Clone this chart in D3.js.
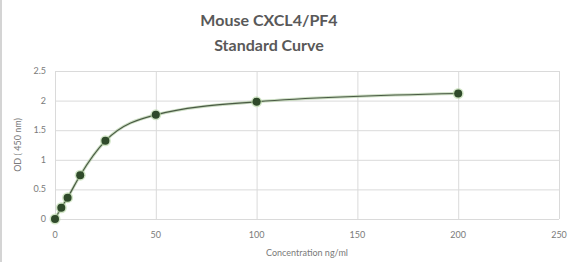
<!DOCTYPE html>
<html>
<head>
<meta charset="utf-8">
<script src="https://cdn.jsdelivr.net/npm/d3@7"></script>
<style>
  body { margin: 0; background: #fff; }
  svg { display: block; font-family: Lato, "Open Sans", sans-serif; }
</style>
</head>
<body>
<svg id="chart" width="569" height="262"></svg>
<script>
// Standard curve data
const concentration = [0, 3.125, 6.25, 12.5, 25, 50, 100, 200];
const od450 = [0, 0.19, 0.36, 0.74, 1.32, 1.76, 1.98, 2.12];
const xTicks = [0, 50, 100, 150, 200, 250];
const yTicks = [0, 0.5, 1, 1.5, 2, 2.5];
const titleLines = ["Mouse CXCL4/PF4", "Standard Curve"];

const svg = d3.select('#chart');
const width = +svg.attr("width");
const height = +svg.attr("height");

// left frame edge
svg.append("rect")
  .attr("x", 0).attr("y", 0)
  .attr("width", 2).attr("height", height)
  .attr("fill", "#d4d4d4");

const x = d3.scaleLinear().domain([0, 250]).range([55, 559]);
const y = d3.scaleLinear().domain([0, 2.5]).range([219, 71]);

//_________________ Grid
svg.append("g")
  .selectAll("line")
  .data(yTicks)
  .enter().append("line")
  .attr("x1", x(0)).attr("x2", x(250))
  .attr("y1", d => y(d) + 0.5).attr("y2", d => y(d) + 0.5)
  .attr("stroke", "#dadada")
  .attr("stroke-width", 1);

svg.append("g")
  .selectAll("line")
  .data(xTicks)
  .enter().append("line")
  .attr("x1", d => x(d) + 0.5).attr("x2", d => x(d) + 0.5)
  .attr("y1", y(2.5)).attr("y2", y(0))
  .attr("stroke", "#dadada")
  .attr("stroke-width", 1);

//_________________ Tick labels
svg.append("g")
  .selectAll("text")
  .data(yTicks)
  .enter().append("text")
  .attr("x", 46)
  .attr("y", d => y(d) + 3)
  .attr("text-anchor", "end")
  .attr("font-size", 9)
  .attr("fill", "#7a7a7a")
  .text(d => d);

svg.append("g")
  .selectAll("text")
  .data(xTicks)
  .enter().append("text")
  .attr("x", d => x(d))
  .attr("y", 238)
  .attr("text-anchor", "middle")
  .attr("font-size", 9)
  .attr("fill", "#7a7a7a")
  .text(d => d);

//_________________ Axis titles
svg.append("text")
  .attr("transform", "translate(21," + ((y(0) + y(2.5)) / 2) + ") rotate(-90)")
  .attr("text-anchor", "middle")
  .attr("font-size", 9)
  .attr("fill", "#7a7a7a")
  .text("OD ( 450 nm)");

svg.append("text")
  .attr("x", (x(0) + x(250)) / 2)
  .attr("y", 256)
  .attr("text-anchor", "middle")
  .attr("font-size", 9)
  .attr("fill", "#7a7a7a")
  .text("Concentration ng/ml");

//_________________ Title
svg.append("g")
  .selectAll("text")
  .data(titleLines)
  .enter().append("text")
  .attr("x", 269)
  .attr("y", (d, i) => 26 + i * 25)
  .attr("text-anchor", "middle")
  .attr("font-size", 16)
  .attr("font-weight", "bold")
  .attr("fill", "#595959")
  .text(d => d);

//_________________ Curve and markers
const pts = concentration.map((c, i) => [c, od450[i]]);

const line = d3.line()
  .x(d => x(d[0]))
  .y(d => y(d[1]))
  .curve(d3.curveMonotoneX);

svg.append("path")
  .datum(pts)
  .attr("d", line)
  .attr("fill", "none")
  .attr("stroke", "#a9c79a")
  .attr("stroke-width", 3)
  .attr("opacity", 0.6);

svg.append("path")
  .datum(pts)
  .attr("d", line)
  .attr("fill", "none")
  .attr("stroke", "#4a5a44")
  .attr("stroke-width", 1.2);

svg.append("g")
  .selectAll("circle")
  .data(pts)
  .enter().append("circle")
  .attr("cx", d => x(d[0]))
  .attr("cy", d => y(d[1]))
  .attr("r", 5.5)
  .attr("fill", "#b5d6a3")
  .attr("opacity", 0.6);

svg.append("g")
  .selectAll("circle")
  .data(pts)
  .enter().append("circle")
  .attr("cx", d => x(d[0]))
  .attr("cy", d => y(d[1]))
  .attr("r", 4)
  .attr("fill", "#2f4a2a");
</script>
</body>
</html>
